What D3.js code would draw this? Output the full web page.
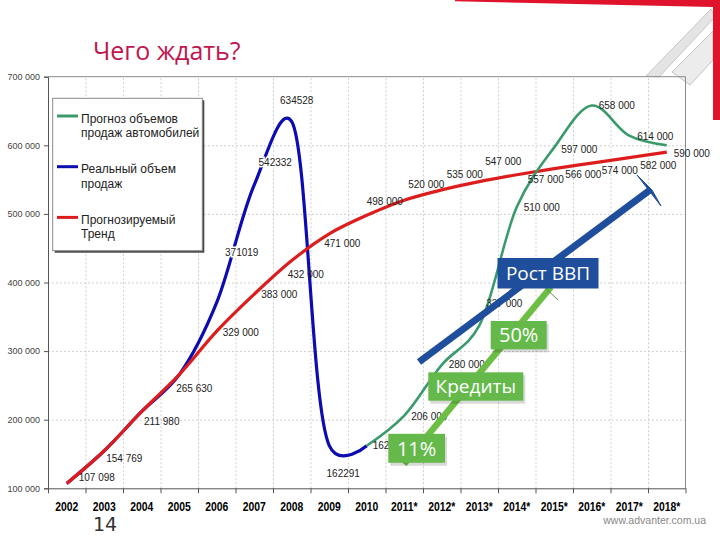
<!DOCTYPE html>
<html><head><meta charset="utf-8">
<script src="https://cdn.jsdelivr.net/npm/d3@7"></script>
<style>body{margin:0;background:#fff;} svg{display:block;}</style>
</head><body><svg id="c" width="720" height="540"></svg>
<script>
// ---------- data ----------
const years = ['2002','2003','2004','2005','2006','2007','2008','2009','2010','2011*','2012*','2013*','2014*','2015*','2016*','2017*','2018*'];
const yTicks = [100000,200000,300000,400000,500000,600000,700000];
const yTickLabels = ['100 000','200 000','300 000','400 000','500 000','600 000','700 000'];

const trendValues = [107098,154769,211980,265630,329000,383000,432000,471000,498000,520000,535000,547000,557000,566000,574000,582000,590000];
const trendLabels = ['107 098','154 769','211 980','265 630','329 000','383 000','432 000','471 000','498 000','520 000','535 000','547 000','557 000','566 000','574 000','582 000','590 000'];

const realYears = years.slice(0,9);
const realValues = [107098,154769,211980,265630,371019,542332,634528,162291,162000];
const realLabels = [null,null,null,null,'371019','542332','634528','162291',null];

const forecastYears = years.slice(8);
const forecastValues = [162000,206000,280000,337000,510000,597000,658000,614000,600000];
const forecastLabels = ['162 000','206 000','280 000','337 000','510 000','597 000','658 000','614 000',null];

const legendItems = [
  {lines:['Прогноз объемов','продаж автомобилей'], color:'#3a9a6c'},
  {lines:['Реальный объем','продаж'], color:'#0c0cb0'},
  {lines:['Прогнозируемый','Тренд'], color:'#dd1d1d'}
];

// label offsets (px) relative to each point
const trendOff = [[30,-6],[20,8],[20,10],[15,14],[24,1],[25,0],[14,14],[13,10],[18,-14],[22,-16],[23,-15],[24,-20],[29,5],[29,6],[28,7],[29,8],[25,1]];
const realOff = [null,null,null,null,[25,-50],[21,-22],[5,-21],[14,28],null];
const forecastOff = [[24,0],[25,1],[25,0],[25,-22],[25,0],[25,2],[25,0],[26,1],null];

// ---------- chart ----------
const svg = d3.select('#c');
const L = 48, R = 685.5, T = 76.7, B = 488.3;
const x = d3.scaleBand().domain(years).range([L, R]).padding(0);
const xb = d3.scaleLinear().domain([0, years.length]).range([L, R]);
const y = d3.scaleLinear().domain([100000, 700000]).range([B, T]);
const cx = d => x(d) + x.bandwidth()/2;

// decoration top-right
const deco = svg.append('g');
deco.append('polygon').attr('points','646,76 711,9 715,17 659,77').attr('fill','#e4e4e4').attr('stroke','#bdbdbd').attr('stroke-width',0.8);
deco.append('polygon').attr('points','672,72 713,31 713,60 690,85').attr('fill','#ececec').attr('stroke','#b5b5b5').attr('stroke-width',0.8);
deco.append('polygon').attr('points','455,0 720,0 720,120 713,120 713,7 455,1.2').attr('fill','#e0132d');

// title
svg.append('text').attr('x',93).attr('y',60).attr('font-family','Open Sans').attr('font-size',25)
  .attr('fill','#c0164e').text('Чего ждать?');

// gridlines
svg.append('g').attr('transform',`translate(${L},0)`)
  .call(d3.axisLeft(y).tickValues(yTicks.slice(1,-1)).tickSize(-(R-L)).tickFormat(''))
  .call(g=>g.select('.domain').remove())
  .selectAll('line').attr('stroke','#cfcfcf').attr('stroke-dasharray','2,2');
svg.append('g').attr('transform',`translate(0,${B})`)
  .call(d3.axisBottom(xb).tickValues(d3.range(1, years.length)).tickSize(-(B-T)).tickFormat(''))
  .call(g=>g.select('.domain').remove())
  .selectAll('line').attr('stroke','#cfcfcf').attr('stroke-dasharray','2,2');

// border top/right
svg.append('path').attr('d',`M${L},${T}H${R}V${B}`).attr('fill','none').attr('stroke','#8a8a8a');

// y axis
const ya = svg.append('g').attr('transform',`translate(${L},0)`)
  .call(d3.axisLeft(y).tickValues(yTicks).tickSize(4).tickPadding(4).tickFormat((d,i)=>yTickLabels[i]));
ya.select('.domain').attr('stroke','#555');
ya.selectAll('line').attr('stroke','#555');
ya.selectAll('text').attr('font-family','Liberation Sans').attr('font-size',9).attr('fill','#444');

// x axis
const xa = svg.append('g').attr('transform',`translate(0,${B})`)
  .call(d3.axisBottom(x).tickSize(0).tickPadding(13));
xa.select('.domain').attr('stroke','#555');
xa.selectAll('text').attr('font-family','Liberation Sans')
  .attr('font-weight','bold').attr('font-size',13).attr('fill','#000')
  .attr('transform','scale(0.8,1)');
svg.append('g').attr('transform',`translate(0,${B})`)
  .call(d3.axisBottom(xb).tickValues(d3.range(0, years.length+1)).tickSize(5).tickFormat(''))
  .call(g=>g.select('.domain').remove())
  .selectAll('line').attr('stroke','#555');

// legend
const lg = svg.append('g');
lg.append('rect').attr('x',54.7).attr('y',100.3).attr('width',149.6).attr('height',152.4).attr('fill','#444');
lg.append('rect').attr('x',52.7).attr('y',98.3).attr('width',149.6).attr('height',152.4).attr('fill','#fff').attr('stroke','#8a8a8a');
legendItems.forEach((it,i)=>{
  const ly = 116 + i*50.7;
  lg.append('line').attr('x1',57).attr('x2',78).attr('y1',ly).attr('y2',ly).attr('stroke',it.color).attr('stroke-width',3);
  it.lines.forEach((t,j)=>{
    lg.append('text').attr('x',81).attr('y',ly+2.3+j*14.5).attr('dy','0.35em')
      .attr('font-family','Liberation Sans').attr('font-size',12).attr('fill','#222').text(t);
  });
});

// lines
const mkLine = (yrs) => d3.line().x((d,i)=>cx(yrs[i])).y(d=>y(d)).curve(d3.curveCatmullRom.alpha(0.25));
svg.append('path').datum(realValues).attr('d',mkLine(realYears)).attr('fill','none').attr('stroke','#0c0cb0').attr('stroke-width',3.2);
svg.append('path').datum(trendValues).attr('d',mkLine(years)).attr('fill','none').attr('stroke','#dd1d1d').attr('stroke-width',3.2);
svg.append('path').datum(forecastValues).attr('d',mkLine(forecastYears)).attr('fill','none').attr('stroke','#3a9a6c').attr('stroke-width',2.6);

// data labels
function labels(yrs, vals, labs, offs, halo){
  const g = svg.append('g');
  vals.forEach((v,i)=>{
    if(!labs[i]) return;
    const t = g.append('text').attr('x',cx(yrs[i])+offs[i][0]).attr('y',y(v)+offs[i][1]).attr('dy','0.35em')
      .attr('text-anchor','middle').attr('font-family','Liberation Sans').attr('font-size',10).attr('fill','#222').text(labs[i]);
    if(halo) t.attr('stroke','#fff').attr('stroke-width',3).attr('paint-order','stroke');
  });
}
labels(years, trendValues, trendLabels, trendOff, false);
labels(forecastYears, forecastValues, forecastLabels, forecastOff, false);
labels(realYears, realValues, realLabels, realOff, true);

// annotations
const an = svg.append('g');
an.append('line').attr('x1',419).attr('y1',362).attr('x2',650).attr('y2',190).attr('stroke','#1f4e9c').attr('stroke-width',7);
an.append('polygon').attr('points','637,175 661,206 652,190').attr('fill','#1f4e9c').attr('stroke','#1f4e9c').attr('stroke-width',1);
an.append('line').attr('x1',404).attr('y1',464).attr('x2',551).attr('y2',287).attr('stroke','#6cbf44').attr('stroke-width',6.5);
an.append('line').attr('x1',540).attr('y1',283).attr('x2',558).attr('y2',300).attr('stroke','#5a8a50').attr('stroke-width',1);

function box(x0,y0,w,h,fill,txt,fs,shadow){
  if(shadow) an.append('rect').attr('x',x0+2).attr('y',y0+3).attr('width',w).attr('height',h).attr('fill','#000').attr('opacity',0.15);
  an.append('rect').attr('x',x0).attr('y',y0).attr('width',w).attr('height',h).attr('fill',fill);
  an.append('text').attr('x',x0+w/2).attr('y',y0+h/2).attr('dy','0.36em').attr('text-anchor','middle')
    .attr('font-family','Open Sans').attr('font-size',fs).attr('fill','#fff').text(txt);
}
box(497.5,258,101,30.5,'#1f4e9c','Рост ВВП',19,false);
box(490.7,321,56,28.3,'#64b94a','50%',20,true);
box(428.3,372.3,95,28.4,'#64b94a','Кредиты',19,true);
box(388.3,433.8,56.7,29,'#64b94a','11%',20,true);

// footer
svg.append('text').attr('x',93).attr('y',531).attr('font-family','DejaVu Sans').attr('font-size',19).attr('fill','#333').text('14');
svg.append('text').attr('x',706).attr('y',524).attr('text-anchor','end').attr('font-family','Liberation Sans').attr('font-size',10.5).attr('fill','#888').text('www.advanter.com.ua');
</script></body></html>
